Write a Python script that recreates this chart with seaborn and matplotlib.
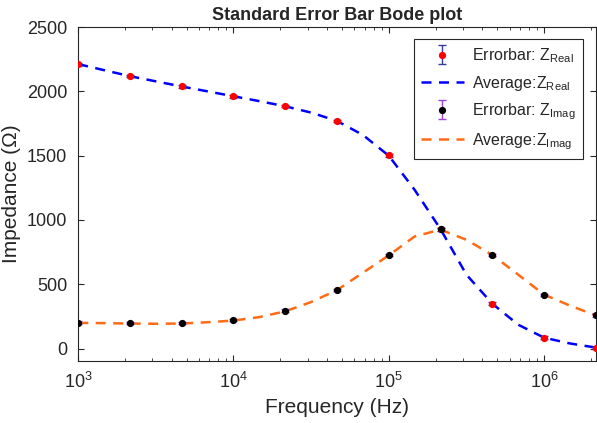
import matplotlib
matplotlib.use("Agg")
import matplotlib.pyplot as plt
import seaborn as sns
import pandas as pd
from matplotlib.lines import Line2D
from matplotlib.legend_handler import HandlerErrorbar
from matplotlib.container import ErrorbarContainer

# measured points (3 per decade)
freq = [1.0e3, 2.154e3, 4.642e3, 1.0e4, 2.154e4, 4.642e4,
        1.0e5, 2.154e5, 4.642e5, 1.0e6, 2.154e6]
z_real = [2210, 2118, 2038, 1962, 1885, 1770, 1503, 929, 349, 86, 3]
z_real_err = [10, 9, 9, 10, 9, 10, 10, 12, 10, 9, 9]
z_imag = [202, 198, 197, 223, 296, 455, 728, 928, 728, 418, 258]
z_imag_err = [9, 8, 8, 9, 9, 10, 10, 12, 10, 9, 9]

# average curves read at half-steps
freq_fine = [1.0e3, 1.468e3, 2.154e3, 3.162e3, 4.642e3, 6.813e3, 1.0e4,
             1.468e4, 2.154e4, 3.162e4, 4.642e4, 6.813e4, 1.0e5, 1.468e5,
             2.154e5, 3.162e5, 4.642e5, 6.813e5, 1.0e6, 1.468e6, 2.154e6]
avg_real = [2212, 2165, 2118, 2078, 2038, 2000, 1962, 1924, 1884, 1835,
            1770, 1661, 1500, 1234, 929, 575, 349, 186, 85, 40, 8]
avg_imag = [200, 198, 195, 193, 195, 205, 218, 245, 290, 362, 455, 590,
            725, 872, 925, 846, 728, 575, 420, 334, 258]

sns.set_style("ticks")
plt.rcParams["font.family"] = ["Liberation Sans", "DejaVu Sans"]
plt.rcParams["mathtext.fontset"] = "custom"
plt.rcParams["mathtext.rm"] = "Liberation Sans"
plt.rcParams["mathtext.it"] = "Liberation Sans"

REAL_EB = "#3a3a9e"
IMAG_EB = "#9b45d0"
DASH = (0, (4, 3))

fig = plt.figure(figsize=(5.97, 4.23), dpi=100)
ax = fig.add_axes([0.131, 0.147, 0.867, 0.789])

df = pd.DataFrame({"f": freq_fine, "real": avg_real, "imag": avg_imag})

h1 = ax.errorbar(freq, z_real, yerr=z_real_err, fmt="o", color="red", ms=4.2,
                 mec="red", ecolor=REAL_EB, elinewidth=1, capsize=3, zorder=4)
sns.lineplot(data=df, x="f", y="real", ax=ax, color="#0000ff", lw=1.8,
             linestyle=DASH, zorder=2)
h3 = ax.errorbar(freq, z_imag, yerr=z_imag_err, fmt="o", color="black", ms=4.2,
                 mec="black", ecolor=IMAG_EB, elinewidth=1, capsize=3, zorder=4)
sns.lineplot(data=df, x="f", y="imag", ax=ax, color="#ff6a13", lw=1.8,
             linestyle=DASH, zorder=2)

ax.set_xscale("log")
ax.set_xlim(1e3, 2.154e6)
ax.set_ylim(-95, 2500)
ax.set_yticks([0, 500, 1000, 1500, 2000, 2500])

ax.tick_params(which="both", direction="in", top=True, right=True,
               labelsize=13, colors="#262626", labelcolor="#262626")
ax.tick_params(which="major", length=4, pad=8)
ax.tick_params(which="minor", length=2)
for s in ax.spines.values():
    s.set_color("#262626")
    s.set_linewidth(0.8)

ax.set_xlabel("Frequency (Hz)", fontsize=15, color="#262626")
ax.set_ylabel("Impedance (Ω)", fontsize=15, color="#262626")
ax.set_title("Standard Error Bar Bode plot", fontsize=13, fontweight="bold", pad=5)

h2 = Line2D([], [], color="#0000ff", lw=1.8, linestyle=DASH)
h4 = Line2D([], [], color="#ff6a13", lw=1.8, linestyle=DASH)
leg = ax.legend([h1, h2, h3, h4],
                [r"Errorbar: Z$_{\rm Real}$", r"Average:Z$_{\rm Real}$",
                 r"Errorbar: Z$_{\rm Imag}$", r"Average:Z$_{\rm Imag}$"],
                loc="upper right", bbox_to_anchor=(0.975, 0.964), borderaxespad=0,
                fontsize=11.5, fancybox=False, framealpha=1, edgecolor="#262626",
                handlelength=2.7, labelspacing=0.55, borderpad=0.45, handletextpad=0.5,
                handler_map={ErrorbarContainer: HandlerErrorbar(xerr_size=0.5, yerr_size=0.6)})
leg.get_frame().set_linewidth(0.8)

fig.savefig("out.png", dpi=100)
